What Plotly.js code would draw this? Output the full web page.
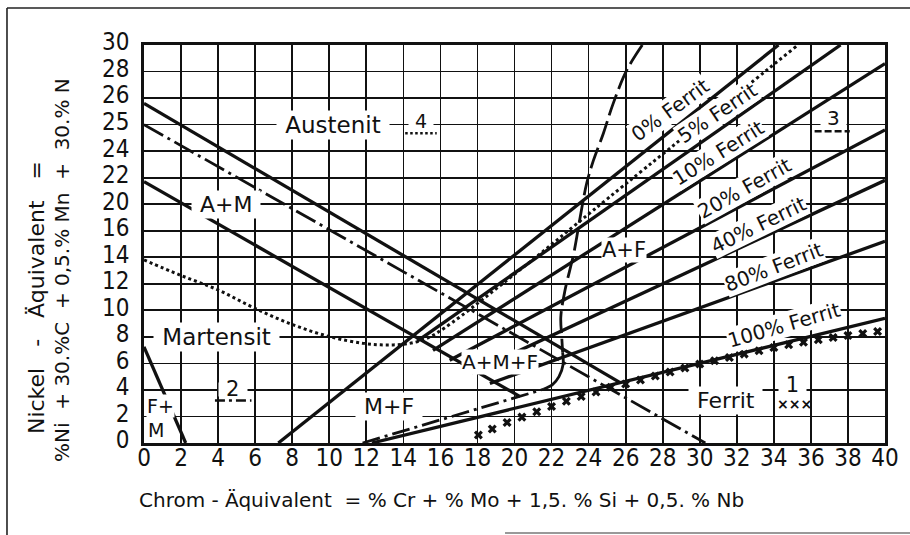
<!DOCTYPE html>
<html>
<head>
<meta charset="utf-8">
<script src="https://cdn.plot.ly/plotly-3.0.1.min.js"></script>
<style>
html,body{margin:0;padding:0;background:#fff;}
#chart{width:910px;height:535px;}
</style>
</head>
<body>
<div id="chart"></div>
<script>
// ---- axes ----
const xTickVals = [0,2,4,6,8,10,12,14,16,18,20,22,24,26,28,30,32,34,36,38,40];
const yTickVals = [0,2,4,6,8,10,12,14,16,18,20,22,24,26,28,30];
const yTickText = ['0','2','4','6','8','10','12','14','16','20','22','24','25','26','28','30'];

// ---- phase boundaries (Chrom-Äquivalent, Nickel-Äquivalent) ----
const austenitX = [0, 25.7];
const austenitY = [25.6, 4.55];
const amX = [0, 20.3];
const amY = [19.7, 3.5];
const fmX = [0, 2.25];
const fmY = [7.25, 0];

// ---- ferrite lines ----
const ferrit0X = [7.25, 34.25],  ferrit0Y = [0, 30];
const ferrit5X = [14.75, 37.6],  ferrit5Y = [7.68, 30];
const ferrit10X = [15.6, 40],    ferrit10Y = [6.99, 28.6];
const ferrit20X = [16.5, 40],    ferrit20Y = [6.24, 23.6];
const ferrit40X = [17.7, 40],    ferrit40Y = [5.3, 19.8];
const ferrit80X = [18.67, 40],   ferrit80Y = [4.49, 15.2];
const ferrit100X = [12.3, 40],   ferrit100Y = [0, 9.4];

// ---- curve 1 (crosses) ----
const curve1X = [18.05,18.8,19.6,20.4,21.2,22.0,22.8,23.6,24.4,25.2,26.0,26.8,27.6,28.4,29.2,30.0,30.8,31.6,32.4,33.2,34.0,34.8,35.6,36.4,37.2,38.0,38.8,39.6];
const curve1Y = [0.6,1.05,1.55,1.95,2.35,2.75,3.15,3.5,3.85,4.2,4.45,4.75,5.05,5.35,5.65,5.95,6.2,6.45,6.7,6.95,7.2,7.4,7.6,7.78,7.95,8.1,8.25,8.4];

// ---- curve 2 (dash-dot) ----
const curve2aX = [0, 30.3];
const curve2aY = [24, 0];
const curve2bX = [11.8, 21.56];
const curve2bY = [0, 4.05];

// ---- curve 3 (dashed) ----
const curve3X = [26.9,26.06,25.33,24.8,24.26,23.9,23.55,23.2,22.73,22.5,22.55,22.6];
const curve3Y = [30,28.1,25.6,23.35,21.3,19.6,17.06,14.3,11.53,9.5,8.0,6.8];
const curve3EndX = [22.6,22.62,22.4,22.05,21.56];
const curve3EndY = [6.8,5.9,5.0,4.4,4.05];

// ---- curve 4 (dotted) ----
const curve4X = [0,1.94,4.01,5.99,8.06,10.04,11.84,13.1,14.3,15.2,16.2,20.7,24.3,35.3];
const curve4Y = [13.8,12.66,11.53,10.15,8.9,8.01,7.51,7.39,7.5,7.85,8.65,13.5,17.6,30];

const INK = '#111';
const TXT = 'DejaVu Sans, Liberation Sans, sans-serif';
const NUM = 'Liberation Sans Narrow, DejaVu Sans Condensed, Liberation Sans, sans-serif';

function solid(x, y, w) { return {x: x, y: y, mode: 'lines', line: {color: INK, width: w || 3.3}, hoverinfo: 'skip'}; }
function styled(x, y, dash, shape) { return {x: x, y: y, mode: 'lines', line: {color: INK, width: 2.8, dash: dash, shape: shape || 'linear'}, hoverinfo: 'skip'}; }

const traces = [
  solid(austenitX, austenitY),
  solid(amX, amY),
  solid(fmX, fmY),
  solid(ferrit0X, ferrit0Y),
  solid(ferrit5X, ferrit5Y),
  solid(ferrit10X, ferrit10Y),
  solid(ferrit20X, ferrit20Y),
  solid(ferrit40X, ferrit40Y),
  solid(ferrit80X, ferrit80Y),
  solid(ferrit100X, ferrit100Y),
  styled(curve2aX, curve2aY, '22px,5px,3px,5px'),
  styled(curve2bX, curve2bY, '18px,5px,3px,5px'),
  styled(curve3X, curve3Y, '22px,6px', 'spline'),
  {x: curve3EndX, y: curve3EndY, mode: 'lines', line: {color: INK, width: 2.8, shape: 'spline'}, hoverinfo: 'skip'},
  {x: curve4X, y: curve4Y, mode: 'lines', line: {color: INK, width: 3, dash: '3px,3px', shape: 'spline'}, hoverinfo: 'skip'},
  {x: curve1X, y: curve1Y, mode: 'markers', marker: {symbol: 'x', size: 8, color: INK}, hoverinfo: 'skip'}
];

function lab(text, x, y, size, angle, extra) {
  const a = {text: text, x: x, y: y, xref: 'x', yref: 'y', showarrow: false,
    font: {family: TXT, size: size, color: INK}, bgcolor: 'white', borderpad: 1,
    textangle: angle || 0};
  return Object.assign(a, extra || {});
}
// small white patch that hides the grid behind a key number
function mask(x, y, n, s) {
  return {text: Array(n).fill('&nbsp;').join(''), x: x, y: y, xref: 'x', yref: 'y', showarrow: false,
    font: {family: TXT, size: s || 11, color: INK}, bgcolor: 'white', borderpad: 0};
}
const CLEAR = {bgcolor: 'rgba(0,0,0,0)', borderpad: 0};

const annotations = [
  lab(' Austenit ', 10.2, 24.0, 23),
  lab(' A+M ', 4.45, 18.0, 22),
  lab(' Martensit ', 3.9, 8.0, 23),
  lab('F+', 0.12, 2.8, 19, 0, {xanchor: 'left', borderpad: 0}),
  lab('M', 0.15, 0.95, 19, 0, {xanchor: 'left', borderpad: 0}),
  lab(' M+F ', 13.2, 2.75, 22),
  lab('A+M+F', 19.2, 6.1, 20, 0, {borderpad: 0}),
  lab('A+F', 25.9, 14.55, 21, 0, {borderpad: 0}),
  lab(' Ferrit ', 31.4, 3.2, 22),
  // key numbers
  mask(14.95, 24.0, 7),
  lab('4', 14.95, 24.25, 19, 0, CLEAR),
  mask(37.2, 24.1, 10, 8),
  lab('3', 37.2, 24.5, 20, 0, CLEAR),
  mask(4.8, 4.0, 8),
  lab('2', 4.8, 4.1, 21, 0, CLEAR),
  lab(' 1 ', 35.0, 4.35, 21, 0, {borderpad: 0}),
  lab('<b>×××</b>', 35.1, 2.95, 14, 0, CLEAR),
  // ferrite lines
  lab('0% Ferrit', 28.4, 25.1, 20, -36, {borderpad: 0}),
  lab('5% Ferrit', 30.95, 24.9, 20, -34, {borderpad: 0}),
  lab('10% Ferrit', 31.0, 21.84, 20, -32, {borderpad: 0}),
  lab('20% Ferrit', 32.44, 19.2, 20, -29, {borderpad: 0}),
  lab('40% Ferrit', 33.16, 16.43, 20, -26, {borderpad: 0}),
  lab('80% Ferrit', 34.0, 13.3, 20, -21, {borderpad: 0}),
  lab('100% Ferrit', 34.55, 8.9, 20, -16, {borderpad: 0}),
  // axis titles
  {text: 'Chrom - Äquivalent  = % Cr + % Mo + 1,5. % Si + 0,5. % Nb', xref: 'paper', yref: 'paper',
   x: -0.0094, y: -0.143, xanchor: 'left', yanchor: 'middle', showarrow: false,
   font: {family: TXT, size: 20, color: INK}},
  {text: 'Nickel   -   Äquivalent   =', xref: 'paper', yref: 'paper',
   x: -0.1457, y: 0.3643, xanchor: 'center', yanchor: 'middle', showarrow: false, textangle: -90,
   font: {family: TXT, size: 22, color: INK}},
  {text: '%Ni  + 30.%C  + 0,5.% Mn  +  30.% N', xref: 'paper', yref: 'paper',
   x: -0.1107, y: 0.4347, xanchor: 'center', yanchor: 'middle', showarrow: false, textangle: -90,
   font: {family: TXT, size: 20, color: INK}}
];

const shapes = [
  // legend keys
  {type: 'line', xref: 'x', yref: 'y', x0: 14.1, x1: 15.8, y0: 23.35, y1: 23.35, layer: 'above', line: {color: INK, width: 2.6, dash: '2.5px,2.5px'}},
  {type: 'line', xref: 'x', yref: 'y', x0: 36.2, x1: 38.1, y0: 23.5, y1: 23.5, layer: 'above', line: {color: INK, width: 2.6, dash: '7px,3px'}},
  {type: 'line', xref: 'x', yref: 'y', x0: 3.83, x1: 5.8, y0: 3.2, y1: 3.2, layer: 'above', line: {color: INK, width: 2.6, dash: '10px,4px,3px,4px'}},
  // outer frame of the figure
  {type: 'line', xref: 'paper', yref: 'paper', x0: -0.1849, x1: 1.04, y0: 1.093, y1: 1.093, line: {color: '#222', width: 1.6}},
  {type: 'line', xref: 'paper', yref: 'paper', x0: -0.1849, x1: -0.1849, y0: 1.093, y1: -0.24, line: {color: '#222', width: 1.6}},
  {type: 'line', xref: 'paper', yref: 'paper', x0: 0.4872, x1: 1.04, y0: -0.2261, y1: -0.2261, line: {color: '#777', width: 1.4}}
];

const axisCommon = {
  showgrid: true, gridcolor: INK, gridwidth: 1.7,
  showline: true, mirror: true, linecolor: INK, linewidth: 2.8,
  zeroline: false, ticks: '', fixedrange: true,
  tickfont: {family: NUM, size: 24, color: INK}
};

const layout = {
  width: 910, height: 535,
  margin: {l: 144, r: 25, t: 45, b: 92, pad: 0},
  paper_bgcolor: 'white', plot_bgcolor: 'white',
  showlegend: false,
  xaxis: Object.assign({}, axisCommon, {range: [0, 40], tickvals: xTickVals, ticktext: xTickVals.map(String), ticklabelstandoff: -9}),
  yaxis: Object.assign({}, axisCommon, {range: [0, 30], tickvals: yTickVals, ticktext: yTickText, ticklabelstandoff: 7, ticklabelshift: -3}),
  annotations: annotations,
  shapes: shapes
};

Plotly.newPlot('chart', traces, layout, {staticPlot: true, displayModeBar: false});
</script>
</body>
</html>
